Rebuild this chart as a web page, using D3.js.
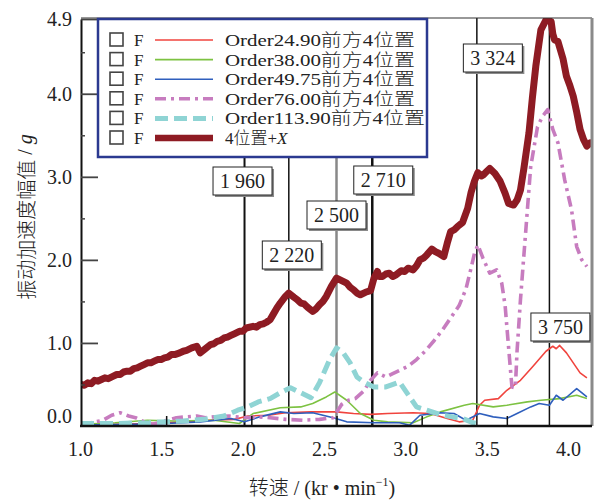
<!DOCTYPE html>
<html>
<head>
<meta charset="utf-8">
<script src="https://cdn.jsdelivr.net/npm/d3@7"></script>
<style>
  body { margin: 0; background: #fff; }
  svg text { font-family: "Liberation Serif", "Times New Roman", Tinos, "DejaVu Serif", "Noto Sans CJK SC", serif; fill: #222; }
  svg text .cjk { font-family: "Noto Sans CJK SC", sans-serif; font-weight: 300; }
</style>
</head>
<body>
<script>
// ---- data (speed in kr/min, amplitude in g) ----
const xTicks = [1.0, 1.5, 2.0, 2.5, 3.0, 3.5, 4.0];
const yTicks = [0, 1, 2, 3, 4, 4.9];

const markerRpm = [1960, 2220, 2500, 2710, 3324, 3750];

const legendNames = ["Order24.90前方4位置", "Order38.00前方4位置", "Order49.75前方4位置",
                     "Order76.00前方4位置", "Order113.90前方4位置", "4位置+X"];

const order2490 = [[1.00,0.02],[1.20,0.02],[1.40,0.03],[1.60,0.05],[1.75,0.07],[1.90,0.08],[1.98,0.12],
  [2.10,0.13],[2.20,0.16],[2.35,0.17],[2.50,0.17],[2.60,0.15],[2.70,0.14],[2.80,0.15],[2.95,0.16],
  [3.05,0.15],[3.15,0.09],[3.22,0.05],[3.30,0.07],[3.34,0.25],[3.37,0.31],[3.45,0.33],[3.50,0.43],
  [3.58,0.55],[3.65,0.71],[3.73,0.90],[3.77,0.96],[3.79,0.93],[3.81,0.97],[3.85,0.88],[3.89,0.76],
  [3.93,0.64],[3.97,0.58]];

const order3800 = [[1.00,0.02],[1.20,0.04],[1.39,0.07],[1.55,0.06],[1.78,0.07],[1.93,0.03],[2.01,0.15],
  [2.17,0.22],[2.29,0.23],[2.36,0.27],[2.44,0.35],[2.49,0.41],[2.56,0.31],[2.64,0.15],[2.72,0.07],
  [2.80,0.05],[2.95,0.04],[3.03,0.11],[3.11,0.17],[3.25,0.25],[3.30,0.27],[3.42,0.23],[3.50,0.25],
  [3.62,0.29],[3.70,0.31],[3.81,0.33],[3.91,0.37],[3.97,0.33]];

const order4975 = [[1.00,0.01],[1.30,0.02],[1.50,0.03],[1.70,0.05],[1.88,0.09],[1.96,0.05],[2.05,0.11],
  [2.17,0.17],[2.25,0.15],[2.36,0.16],[2.48,0.10],[2.56,0.05],[2.72,0.04],[2.87,0.04],[2.93,0.01],
  [2.99,0.13],[3.11,0.16],[3.19,0.15],[3.26,0.07],[3.34,0.15],[3.42,0.11],[3.50,0.09],[3.56,0.15],
  [3.64,0.23],[3.69,0.27],[3.75,0.25],[3.79,0.37],[3.83,0.31],[3.91,0.45],[3.97,0.35]];

const order7600 = [[1.00,0.03],[1.06,0.04],[1.13,0.07],[1.18,0.13],[1.23,0.16],[1.28,0.12],[1.32,0.10],
  [1.37,0.05],[1.42,0.02],[1.49,0.06],[1.56,0.10],[1.62,0.11],[1.68,0.12],[1.73,0.10],[1.78,0.11],
  [1.87,0.12],[1.96,0.10],[2.04,0.11],[2.11,0.10],[2.20,0.08],[2.30,0.07],[2.40,0.08],[2.48,0.10],
  [2.53,0.26],[2.57,0.31],[2.61,0.33],[2.66,0.42],[2.70,0.55],[2.74,0.64],[2.79,0.59],[2.83,0.63],
  [2.87,0.67],[2.92,0.72],[2.97,0.80],[3.02,0.90],[3.07,1.02],[3.12,1.15],[3.17,1.30],[3.22,1.45],
  [3.26,1.65],[3.29,1.90],[3.31,2.08],[3.33,2.18],[3.36,2.02],[3.40,1.84],[3.44,1.88],[3.47,1.72],
  [3.49,1.45],[3.50,1.20],[3.52,0.71],[3.53,0.47],[3.55,0.46],[3.56,0.90],[3.58,1.52],[3.61,2.32],
  [3.64,3.12],[3.68,3.60],[3.71,3.73],[3.74,3.81],[3.77,3.57],[3.80,3.41],[3.84,2.96],[3.88,2.60],
  [3.91,2.16],[3.94,2.00],[3.97,1.92]];

const order11390 = [[1.00,0.03],[1.20,0.03],[1.40,0.04],[1.50,0.05],[1.60,0.06],[1.72,0.08],[1.84,0.12],
  [1.92,0.19],[1.98,0.23],[2.04,0.29],[2.11,0.33],[2.17,0.40],[2.23,0.46],[2.29,0.40],[2.35,0.34],
  [2.40,0.52],[2.46,0.80],[2.50,0.94],[2.54,0.88],[2.58,0.76],[2.62,0.59],[2.66,0.53],[2.72,0.47],
  [2.79,0.47],[2.87,0.53],[2.93,0.35],[2.97,0.23],[3.03,0.19],[3.12,0.13],[3.24,0.09],[3.30,0.04],
  [3.35,0.02]];

const pos4X = [[1.00,0.50],[1.02,0.49],[1.04,0.52],[1.06,0.51],[1.08,0.55],[1.10,0.54],[1.12,0.56],
  [1.14,0.58],[1.16,0.57],[1.19,0.60],[1.21,0.62],[1.23,0.62],[1.25,0.65],[1.27,0.66],[1.29,0.66],
  [1.31,0.69],[1.33,0.70],[1.35,0.72],[1.37,0.74],[1.39,0.76],[1.41,0.76],[1.43,0.78],[1.45,0.80],
  [1.47,0.80],[1.49,0.82],[1.51,0.83],[1.53,0.86],[1.55,0.86],[1.58,0.88],[1.60,0.90],[1.62,0.91],
  [1.65,0.94],[1.68,0.96],[1.70,0.88],[1.73,0.93],[1.76,0.98],[1.78,0.99],[1.80,1.02],[1.82,1.03],
  [1.84,1.06],[1.86,1.07],[1.88,1.09],[1.90,1.11],[1.93,1.14],[1.95,1.14],[1.97,1.18],[2.01,1.20],
  [2.03,1.19],[2.05,1.22],[2.07,1.23],[2.09,1.25],[2.11,1.28],[2.13,1.35],[2.15,1.42],[2.17,1.48],
  [2.20,1.56],[2.22,1.60],[2.25,1.55],[2.27,1.52],[2.29,1.48],[2.31,1.47],[2.33,1.43],[2.36,1.38],
  [2.38,1.41],[2.40,1.46],[2.42,1.50],[2.44,1.56],[2.47,1.68],[2.50,1.78],[2.53,1.75],[2.56,1.72],
  [2.58,1.67],[2.60,1.64],[2.62,1.60],[2.64,1.58],[2.67,1.61],[2.70,1.63],[2.72,1.78],[2.74,1.86],
  [2.75,1.80],[2.77,1.80],[2.79,1.83],[2.81,1.84],[2.83,1.80],[2.85,1.82],[2.88,1.87],[2.90,1.86],
  [2.92,1.90],[2.95,1.88],[2.97,1.93],[2.99,2.00],[3.01,2.02],[3.03,2.06],[3.06,2.13],[3.08,2.10],
  [3.10,2.08],[3.13,2.04],[3.15,2.20],[3.17,2.34],[3.19,2.36],[3.21,2.40],[3.24,2.45],[3.27,2.62],
  [3.29,2.81],[3.31,2.95],[3.33,3.05],[3.35,3.01],[3.36,3.02],[3.38,3.06],[3.40,3.10],[3.43,3.04],
  [3.46,2.95],[3.49,2.80],[3.51,2.68],[3.54,2.66],[3.56,2.72],[3.58,2.84],[3.60,3.10],[3.63,3.53],
  [3.65,3.95],[3.67,4.33],[3.70,4.77],[3.73,4.89],[3.76,4.87],[3.77,4.72],[3.78,4.65],[3.80,4.63],
  [3.83,4.42],[3.85,4.21],[3.87,4.10],[3.89,3.97],[3.91,3.78],[3.93,3.57],[3.95,3.45],[3.97,3.37],
  [3.99,3.41],[4.00,3.40]];

// ---- styling ----
const series = [
  { data: order2490,  color: "#f0443e", width: 1.6, dash: null },
  { data: order3800,  color: "#7dc242", width: 1.6, dash: null },
  { data: order4975,  color: "#2f5fbd", width: 1.6, dash: null },
  { data: order7600,  color: "#c77cbf", width: 3.6, dash: "11,5,3,5" },
  { data: order11390, color: "#8fd4d4", width: 5,   dash: "13,6" },
  { data: pos4X,      color: "#8e1b23", width: 7,   dash: null }
];

// label box placement (offset from line, box centre y in px)
const markerBoxes = [
  { dx: -2, cy: 181, stroke: "#111", w: 2 },
  { dx: 3,  cy: 255, stroke: "#111", w: 1.5 },
  { dx: 0,  cy: 215, stroke: "#888", w: 2.5 },
  { dx: 11, cy: 180, stroke: "#111", w: 2.5 },
  { dx: 16, cy: 58,  stroke: "#111", w: 1.5 },
  { dx: 11, cy: 327, stroke: "#111", w: 1.5 }
];

const width = 609, height = 502;
const plot = { left: 81, right: 592, top: 18, bottom: 426 };

const svg = d3.select("body").append("svg")
  .attr("width", width).attr("height", height)
  .style("background", "#fff");

const x = d3.scaleLinear().domain([1, 4]).range([plot.left, plot.right]);
const xLab = d3.scaleLinear().domain([1, 4]).range([80, 568]);   // labels sit slightly left in the source
const y = d3.scaleLinear().domain([0, 4.9]).range([plot.bottom, plot.top + 1]);

svg.append("clipPath").attr("id", "clip")
  .append("rect")
  .attr("x", plot.left).attr("y", plot.top)
  .attr("width", plot.right - plot.left).attr("height", plot.bottom - plot.top);

// marker lines
const mg = svg.append("g");
markerRpm.forEach((r, i) => {
  mg.append("line")
    .attr("x1", x(r / 1000)).attr("x2", x(r / 1000))
    .attr("y1", plot.top).attr("y2", plot.bottom)
    .attr("stroke", markerBoxes[i].stroke)
    .attr("stroke-width", markerBoxes[i].w);
});

// curves
const line = d3.line().x(d => x(d[0])).y(d => y(d[1]));
const cg = svg.append("g").attr("clip-path", "url(#clip)");
series.forEach(s => {
  cg.append("path")
    .attr("d", line(s.data))
    .attr("fill", "none")
    .attr("stroke", s.color)
    .attr("stroke-width", s.width)
    .attr("stroke-dasharray", s.dash)
    .attr("stroke-linejoin", "round");
});

// frame
svg.append("line").attr("x1", plot.left).attr("x2", plot.right)
  .attr("y1", plot.top).attr("y2", plot.top).attr("stroke", "#333").attr("stroke-width", 1.2);
svg.append("line").attr("x1", plot.right).attr("x2", plot.right)
  .attr("y1", plot.top).attr("y2", plot.bottom).attr("stroke", "#8a8a8a").attr("stroke-width", 3);

// y axis
const yAx = svg.append("g").attr("transform", `translate(${plot.left},0)`)
  .call(d3.axisLeft(y).tickValues(yTicks).tickSize(0).tickPadding(9).tickFormat(d3.format(".1f")));
yAx.attr("font-family", null);
yAx.select(".domain").attr("stroke", "#111").attr("stroke-width", 2);
yAx.selectAll("text").attr("font-size", 20).attr("fill", "#222")
  .attr("dy", d => d === 0 ? "-0.2em" : "0.32em");

svg.append("g").attr("transform", `translate(${plot.left},0)`)
  .call(d3.axisRight(y).tickValues([1, 2, 3, 4, 4.9]).tickSize(17).tickFormat(""))
  .call(g => g.select(".domain").remove())
  .selectAll("line").attr("stroke", "#444").attr("stroke-width", 1.8);
svg.append("g").attr("transform", `translate(${plot.left},0)`)
  .call(d3.axisRight(y).tickValues([0.5, 1.5, 2.5, 3.5, 4.5]).tickSize(4).tickFormat(""))
  .call(g => g.select(".domain").remove())
  .selectAll("line").attr("stroke", "#444").attr("stroke-width", 1.5);

// x axis
svg.append("g").attr("transform", `translate(0,${plot.bottom})`)
  .call(d3.axisTop(x).tickValues([1.5, 2, 2.5, 3, 3.5]).tickSize(10).tickFormat(""))
  .call(g => g.select(".domain").remove())
  .selectAll("line").attr("stroke", "#111").attr("stroke-width", 1.5);
svg.append("line").attr("x1", plot.left - 1).attr("x2", plot.right)
  .attr("y1", plot.bottom).attr("y2", plot.bottom).attr("stroke", "#111").attr("stroke-width", 2.5);

const xAx = svg.append("g").attr("transform", `translate(0,${plot.bottom})`)
  .call(d3.axisBottom(xLab).tickValues(xTicks).tickSize(0).tickPadding(16).tickFormat(d3.format(".1f")));
xAx.attr("font-family", null);
xAx.select(".domain").remove();
xAx.selectAll("text").attr("font-size", 20).attr("fill", "#222");

// axis titles
const yt = svg.append("text")
  .attr("transform", "translate(25,217) rotate(-90)")
  .attr("text-anchor", "middle").attr("dominant-baseline", "central")
  .attr("font-size", 20);
yt.append("tspan").attr("class", "cjk").text("振动加速度幅值");
yt.append("tspan").text(" / ");
yt.append("tspan").attr("font-style", "italic").text("g");

const xt = svg.append("text")
  .attr("x", 322).attr("y", 495)
  .attr("text-anchor", "middle").attr("font-size", 20);
xt.append("tspan").attr("class", "cjk").text("转速");
xt.append("tspan").text(" / (kr • min");
xt.append("tspan").attr("font-size", 12).attr("dy", -9).text("−1");
xt.append("tspan").attr("dy", 9).text(")");

// legend
const lg = svg.append("g");
lg.append("rect").attr("x", 98).attr("y", 19).attr("width", 329).attr("height", 138)
  .attr("fill", "#fff").attr("stroke", "#2b3990").attr("stroke-width", 2.5);
legendNames.forEach((name, i) => {
  const cy = 40 + i * 19.6;
  const s = series[i];
  lg.append("rect").attr("x", 110).attr("y", cy - 7).attr("width", 13).attr("height", 13)
    .attr("fill", "#fff").attr("stroke", "#444").attr("stroke-width", 1.6);
  lg.append("text").attr("x", 134).attr("y", cy + 6)
    .attr("font-size", 17).text("F");
  lg.append("line").attr("x1", 155).attr("x2", 213).attr("y1", cy).attr("y2", cy)
    .attr("stroke", s.color).attr("stroke-width", Math.min(s.width, 6.5))
    .attr("stroke-dasharray", s.dash);
  const t = lg.append("text").attr("x", 225).attr("y", cy + 6)
    .attr("font-size", 17)
    .attr("textLength", i === 5 ? null : (i === 4 ? 200 : 190))
    .attr("lengthAdjust", "spacingAndGlyphs");
  // split into latin / CJK runs
  const parts = name.match(/[\u4e00-\u9fff]+|[^\u4e00-\u9fff]+/g);
  parts.forEach(p => {
    if (/[\u4e00-\u9fff]/.test(p)) {
      t.append("tspan").attr("class", "cjk").text(p);
    } else if (p === "+X") {
      t.append("tspan").text("+");
      t.append("tspan").attr("font-style", "italic").text("X");
    } else {
      t.append("tspan").text(p);
    }
  });
});

// marker label boxes
const fmt = r => d3.format(",")(r).replace(",", " ");
markerRpm.forEach((r, i) => {
  const b = markerBoxes[i];
  const cx = x(r / 1000) + b.dx;
  const g = svg.append("g");
  const t = g.append("text").attr("x", cx).attr("y", b.cy + 7)
    .attr("text-anchor", "middle")
    .attr("font-size", 20).text(fmt(r));
  const bw = t.node().getComputedTextLength() + 14, bh = 28;
  g.insert("rect", "text").attr("x", cx - bw / 2 + 2).attr("y", b.cy - bh / 2 + 2)
    .attr("width", bw).attr("height", bh).attr("fill", "#8a8a8a");
  g.insert("rect", "text").attr("x", cx - bw / 2).attr("y", b.cy - bh / 2)
    .attr("width", bw).attr("height", bh).attr("fill", "#fff")
    .attr("stroke", "#222").attr("stroke-width", 1);
});
</script>
</body>
</html>
